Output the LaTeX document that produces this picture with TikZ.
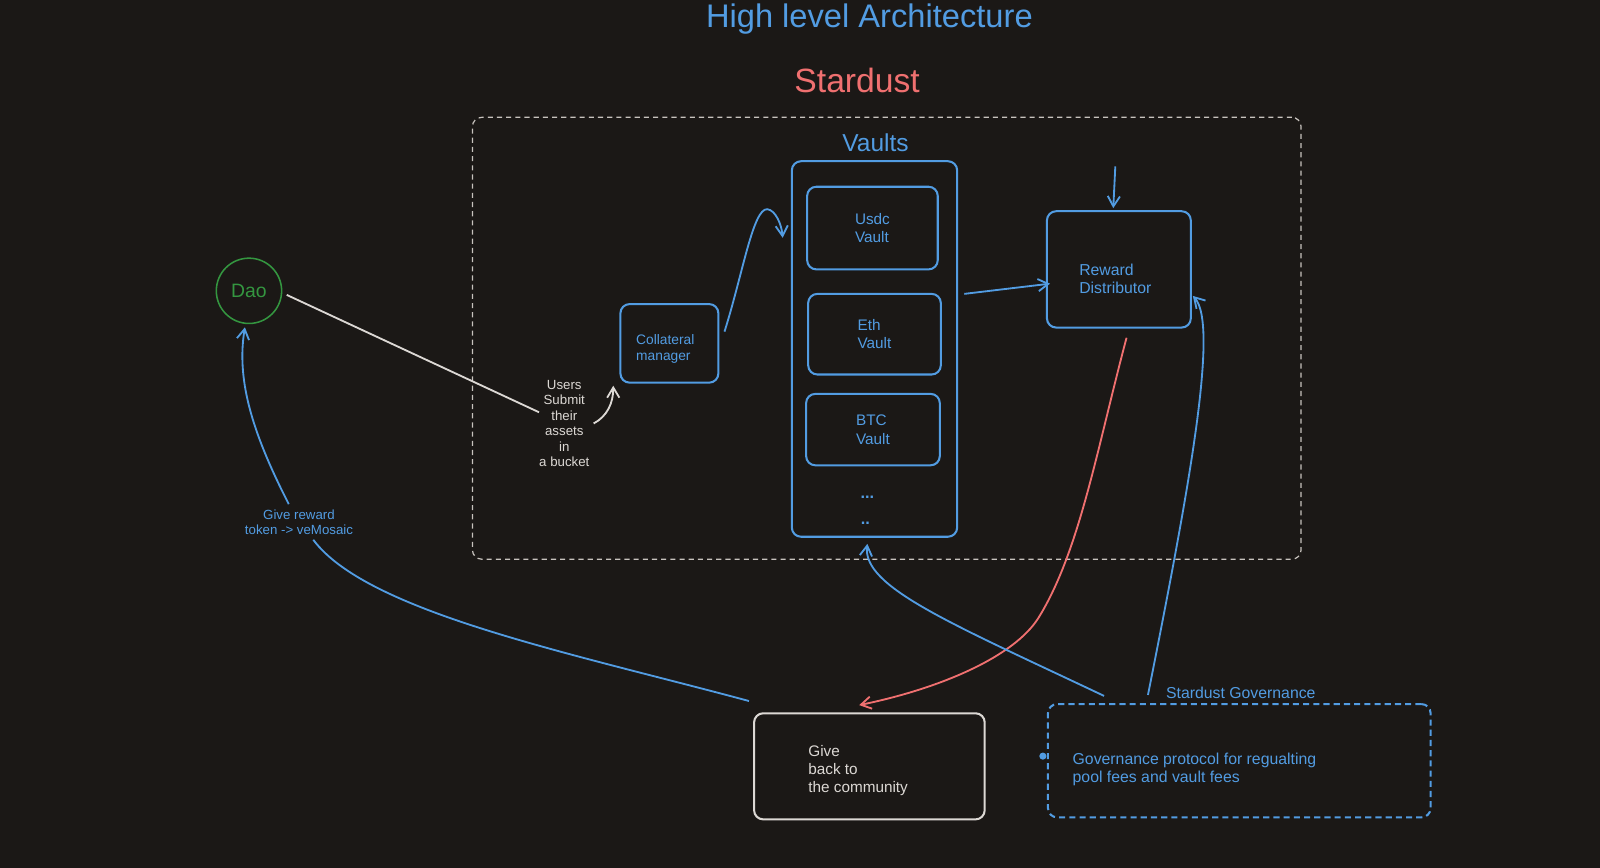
\documentclass[tikz,border=0pt]{standalone}
\usepackage{fontspec}
\setmainfont{Liberation Sans}
\usetikzlibrary{arrows.meta}
\definecolor{bgc}{RGB}{27,24,22}
\definecolor{xblue}{RGB}{82,156,226}
\definecolor{xred}{RGB}{240,112,112}
\definecolor{xgreen}{RGB}{52,150,64}
\definecolor{xwhite}{RGB}{220,216,212}
\definecolor{xgray}{RGB}{200,195,190}
\begin{document}
\begin{tikzpicture}[x=1pt,y=-1pt,
  bbox/.style={draw=xblue, line width=2pt, rounded corners=9pt, inner sep=0pt},
  wbox/.style={draw=xwhite, line width=2pt, rounded corners=9pt, inner sep=0pt},
  blbl/.style={text=xblue, inner sep=0pt},
  wlbl/.style={text=xwhite, inner sep=0pt},
  bconn/.style={draw=xblue, line width=1.8pt},
  wconn/.style={draw=xwhite, line width=1.8pt},
  rconn/.style={draw=xred, line width=1.8pt},
  arr/.style={-{Straight Barb[length=10pt,width=12pt]}}
]
\fill[bgc] (0,0) rectangle (1568,850.6);
\useasboundingbox (0,0) rectangle (1568,850.6);

% titles
\node[blbl, font=\fontsize{32}{36}\selectfont] (title) at (852,19) {High level Architecture};
\node[text=xred, inner sep=0pt, font=\fontsize{33}{36}\selectfont] (stardust) at (840,79) {Stardust};

% outer dashed boundary
\node[draw=xgray, line width=1.2pt, dash pattern=on 5pt off 4pt, rounded corners=9pt,
      minimum width=812pt, minimum height=433pt, inner sep=0pt] (outer) at (869,331.5) {};

% vaults
\node[blbl, font=\fontsize{24}{28}\selectfont] (vlabel) at (858,140) {Vaults};
\node[bbox, minimum width=162pt, minimum height=368pt] (vaults) at (857,342) {};
\node[bbox, minimum width=128pt, minimum height=81pt, align=left, text=xblue,
      font=\fontsize{15}{18}\selectfont] (usdc) at (855,223.5) {Usdc\\Vault};
\node[bbox, minimum width=130pt, minimum height=79pt, align=left, text=xblue,
      font=\fontsize{15}{18}\selectfont] (eth) at (857,327.5) {Eth\\Vault};
\node[bbox, minimum width=131pt, minimum height=70pt, align=left, text=xblue,
      font=\fontsize{15}{18}\selectfont] (btc) at (855.5,421) {BTC\\Vault};
\node[blbl, font=\fontsize{16}{18}\selectfont\bfseries] (dots1) at (850,487) {...};
\node[blbl, font=\fontsize{16}{18}\selectfont\bfseries] (dots2) at (848,513) {..};

% reward distributor
\node[bbox, minimum width=141pt, minimum height=114pt] (reward) at (1096.5,264) {};
\node[blbl, align=left, font=\fontsize{15.5}{18}\selectfont] (rtext) at (1093,273) {Reward\\Distributor};

% collateral manager
\node[bbox, minimum width=96pt, minimum height=77pt] (coll) at (656,336.5) {};
\node[blbl, align=left, font=\fontsize{13.5}{16}\selectfont] (ctext) at (652,342) {Collateral\\manager};

% dao
\node[draw=xgreen, line width=1.5pt, circle, minimum size=64pt, inner sep=0pt,
      text=xgreen, font=\fontsize{19}{22}\selectfont] (dao) at (244,285) {Dao};

% users text
\node[wlbl, align=center, font=\fontsize{13}{15.2}\selectfont] (users) at (553,415)
  {Users\\Submit\\their\\assets\\in\\a bucket};

% give reward text
\node[blbl, align=center, font=\fontsize{13}{15}\selectfont] (greward) at (293,511.5)
  {Give reward\\token -> veMosaic};

% give back box
\node[wbox, minimum width=226pt, minimum height=104pt] (givebox) at (852,751) {};
\node[wlbl, anchor=west, align=left, font=\fontsize{15}{18}\selectfont] (givetext) at (792,755)
  {Give\\back to\\the community};

% governance
\node[blbl, font=\fontsize{15.5}{18}\selectfont] (govlabel) at (1216,679) {Stardust Governance};
\node[draw=xblue, line width=2pt, dash pattern=on 6pt off 4pt, rounded corners=9pt,
      minimum width=375pt, minimum height=111pt, inner sep=0pt] (govbox) at (1214.5,745.5) {};
\node[blbl, anchor=west, align=left, font=\fontsize{15.5}{17}\selectfont] (govtext) at (1051,754)
  {Governance protocol for regualting\\pool fees and vault fees};
\node[circle, fill=xblue, minimum size=7pt, inner sep=0pt] (govdot) at (1022,741) {};

% connectors
\coordinate (rtop) at (1093,163);

\draw[wconn] ([shift={(37pt,-4pt)}]dao.center) -- ([yshift=11pt]users.west);
\draw[wconn, arr] ([xshift=4pt]users.east) .. controls (595,408) and (601,395) .. ([shift={(-6pt,-2pt)}]coll.south west);
\draw[bconn, arr] ([shift={(5pt,11.5pt)}]coll.east) .. controls (728,268) and (738,204) .. (752,205)
  .. controls (760,206) and (766,220) .. ([shift={(-8pt,-76pt)}]vaults.north west);
\draw[bconn, arr] ([shift={(6pt,54pt)}]vaults.east) -- ([shift={(4pt,-14pt)}]reward.west);
\draw[bconn, arr] (rtop) -- ([shift={(-5.5pt,2pt)}]reward.north);
\draw[rconn, arr] ([shift={(7.5pt,-9pt)}]reward.south) .. controls (1075,440) and (1058,540) .. (1018,605)
  .. controls (994,644) and (920,675) .. ([shift={(-10pt,7pt)}]givebox.north);
\draw[bconn, arr] ([shift={(56pt,7pt)}]govbox.north west) .. controls (930,610) and (845,575) .. ([shift={(-7pt,-6pt)}]vaults.south);
\draw[bconn, arr] ([shift={(99pt,8pt)}]govbox.north west) .. controls (1165,480) and (1195,318) .. ([shift={(1pt,-26pt)}]reward.east);
\draw[bconn, arr] ([shift={(-10pt,5pt)}]greward.north) .. controls (245,420) and (232,370) .. ([shift={(-4pt,-3pt)}]dao.south);
\draw[bconn] ([shift={(-4pt,11pt)}]givebox.north west) .. controls (560,640) and (360,600) .. ([shift={(14pt,-5pt)}]greward.south);
\end{tikzpicture}
\end{document}
